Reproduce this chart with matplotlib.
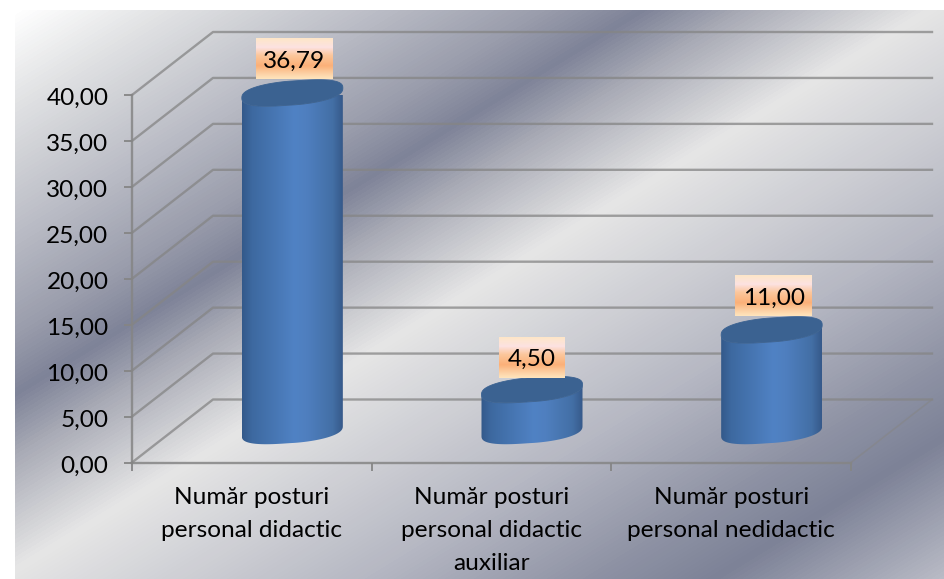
import numpy as np
import matplotlib
matplotlib.use("Agg")
import matplotlib.pyplot as plt
from matplotlib.colors import LinearSegmentedColormap
from matplotlib.patches import Polygon
from matplotlib.transforms import ScaledTranslation

categories = ["Număr posturi\npersonal didactic",
              "Număr posturi\npersonal didactic\nauxiliar",
              "Număr posturi\npersonal nedidactic"]
values = [36.79, 4.50, 11.00]
value_labels = ["36,79", "4,50", "11,00"]
y_ticks = [0, 5, 10, 15, 20, 25, 30, 35, 40]

W, H = 945, 579
FS = 17.6
plt.rcParams['font.family'] = ['Lato', 'DejaVu Sans']
fig = plt.figure(figsize=(W / 100, H / 100), dpi=100, facecolor='white')

# ---------- chart-area background ----------
X0, Y0 = 15, 10
bg = fig.add_axes([X0 / W, 0, (W - X0) / W, (H - Y0) / H], zorder=0)
bg.axis('off')
yy, xx = np.mgrid[Y0:H, X0:W]
t = xx * 0.52 + yy * 0.85
raw = [(16, '#ffffff'), (100, '#dfe0e2'), (200, '#bcbec7'), (290, '#9a9dac'), (342, '#7e8398'),
       (395, '#a9abb6'), (490, '#e6e6e6'), (680, '#b6b8c3'), (800, '#8e92a4'), (865, '#7d8297'),
       (983, '#b9bbc6')]
tmin, tmax = raw[0][0], raw[-1][0]
bg_cmap = LinearSegmentedColormap.from_list(
    'bg', [((p - tmin) / (tmax - tmin), c) for p, c in raw])
bg.imshow(t, cmap=bg_cmap, vmin=tmin, vmax=tmax, aspect='auto', interpolation='bilinear')

# ---------- main axes (front plane of the 3-D box) ----------
L, R, B, T = 132, 851, 462.5, 95
ax = fig.add_axes([L / W, 1 - B / H, (R - L) / W, (B - T) / H], zorder=1)
ax.patch.set_alpha(0)
XMIN, XMAX, YMAX = -0.5, 2.5, 40
pxx = (XMAX - XMIN) / (R - L)     # data units per pixel, x
pxy = YMAX / (B - T)              # data units per pixel, y
dx, dy = 81 * pxx, 63 * pxy       # box depth

grid_c = '#858585'
for v in y_ticks[1:]:
    ax.plot([XMIN, XMIN + dx, XMAX + dx], [v, v + dy, v + dy], color=grid_c,
            lw=1.7, alpha=0.75, clip_on=False, zorder=2)
ax.plot([XMAX + dx, XMAX], [dy, 0], color=grid_c, lw=1.2, alpha=0.55, clip_on=False, zorder=2)
ax.plot([XMIN, XMIN + dx, XMAX + dx], [0, dy, dy], color=grid_c,
        lw=1.7, alpha=0.75, clip_on=False, zorder=2)

# ---------- cylinders ----------
side_cmap = LinearSegmentedColormap.from_list(
    'side', [(0, '#33598a'), (0.10, '#3d69a0'), (0.52, '#5082c4'), (0.64, '#4f7fbf'),
             (0.90, '#436fa5'), (1, '#36598a')])
grad = np.linspace(0, 1, 256)[None, :]
a_px, b_px, tilt_px = 50.5, 12, 5
tt = np.linspace(0, 2 * np.pi, 241)
box_cmap = LinearSegmentedColormap.from_list(
    'box', [(0, '#fee6c8'), (0.22, '#fce2e2'), (0.42, '#fcc79c'), (0.68, '#fbb078'),
            (0.88, '#fdd2a6'), (1, '#ffe4bc')])
box_grad = np.linspace(0, 1, 64)[:, None]
c, s = np.cos(tt), np.sin(tt)
c_se = np.sign(c) * np.abs(c) ** 0.85      # slightly squared ends, like the 3-D rendering
s_se = np.sign(s) * np.abs(s) ** 0.78

for i, (val, lab) in enumerate(zip(values, value_labels)):
    cx, b0 = i + dx / 2, dy / 2
    top = b0 + val
    ex = a_px * pxx * c_se
    ey = (tilt_px * c + b_px * s_se) * pxy
    low = tt >= np.pi
    lx, ly = ex[low], ey[low]
    outline = np.column_stack([np.r_[cx + lx, cx + lx[::-1]],
                               np.r_[b0 + ly, top + ly[::-1]]])
    im = ax.imshow(grad, cmap=side_cmap, aspect='auto', interpolation='bilinear', vmin=0, vmax=1,
                   extent=[cx - a_px * pxx, cx + a_px * pxx, b0 - 20 * pxy, top + 20 * pxy],
                   zorder=3)
    im.set_clip_path(Polygon(outline, closed=True, transform=ax.transData))
    ax.fill(cx + ex, top + ey, facecolor='#3b6291', edgecolor='#3b6291', lw=0.6,
            zorder=4, clip_on=False)

    # value label box
    short = len(lab) == 4
    half_w = (33 if short else 38.5) * pxx
    bx = cx + (0 if short else 2) * pxx
    by = top + (32.5 if short else 34.5) * pxy
    ax.imshow(box_grad, cmap=box_cmap, aspect='auto', vmin=0, vmax=1, interpolation='bilinear',
              extent=[bx - half_w, bx + half_w, by - 20.5 * pxy, by + 20.5 * pxy],
              zorder=5, clip_on=False)
    ax.text(bx, by - 2.5 * pxy, lab, ha='center', va='center', fontsize=FS, color='black', zorder=6)

ax.set_xlim(XMIN, XMAX)
ax.set_ylim(0, YMAX)

# ---------- axes styling ----------
for sp in ('top', 'right'):
    ax.spines[sp].set_visible(False)
for sp in ('left', 'bottom'):
    ax.spines[sp].set_color(grid_c)
    ax.spines[sp].set_linewidth(1.7)
    ax.spines[sp].set_alpha(0.85)
    ax.spines[sp].set_zorder(2)
ax.set_yticks(y_ticks)
ax.set_yticklabels([f"{v:.2f}".replace('.', ',') for v in y_ticks], fontsize=FS)
ax.tick_params(axis='y', length=6, width=1.3, color=grid_c, pad=11, labelcolor='black')
shift = ScaledTranslation(0, -1.5 / 100, fig.dpi_scale_trans)
for lbl in ax.get_yticklabels():
    lbl.set_transform(lbl.get_transform() + shift)
ax.set_xticks([-0.5, 0.5, 1.5, 2.5])
ax.set_xticklabels([])
ax.tick_params(axis='x', which='major', length=6, width=1.3, color=grid_c)
ax.set_xticks([0, 1, 2], minor=True)
ax.set_xticklabels(categories, minor=True, fontsize=FS, linespacing=1.68, color='black')
ax.tick_params(axis='x', which='minor', length=0, pad=18)

fig.savefig('out.png', dpi=100)
